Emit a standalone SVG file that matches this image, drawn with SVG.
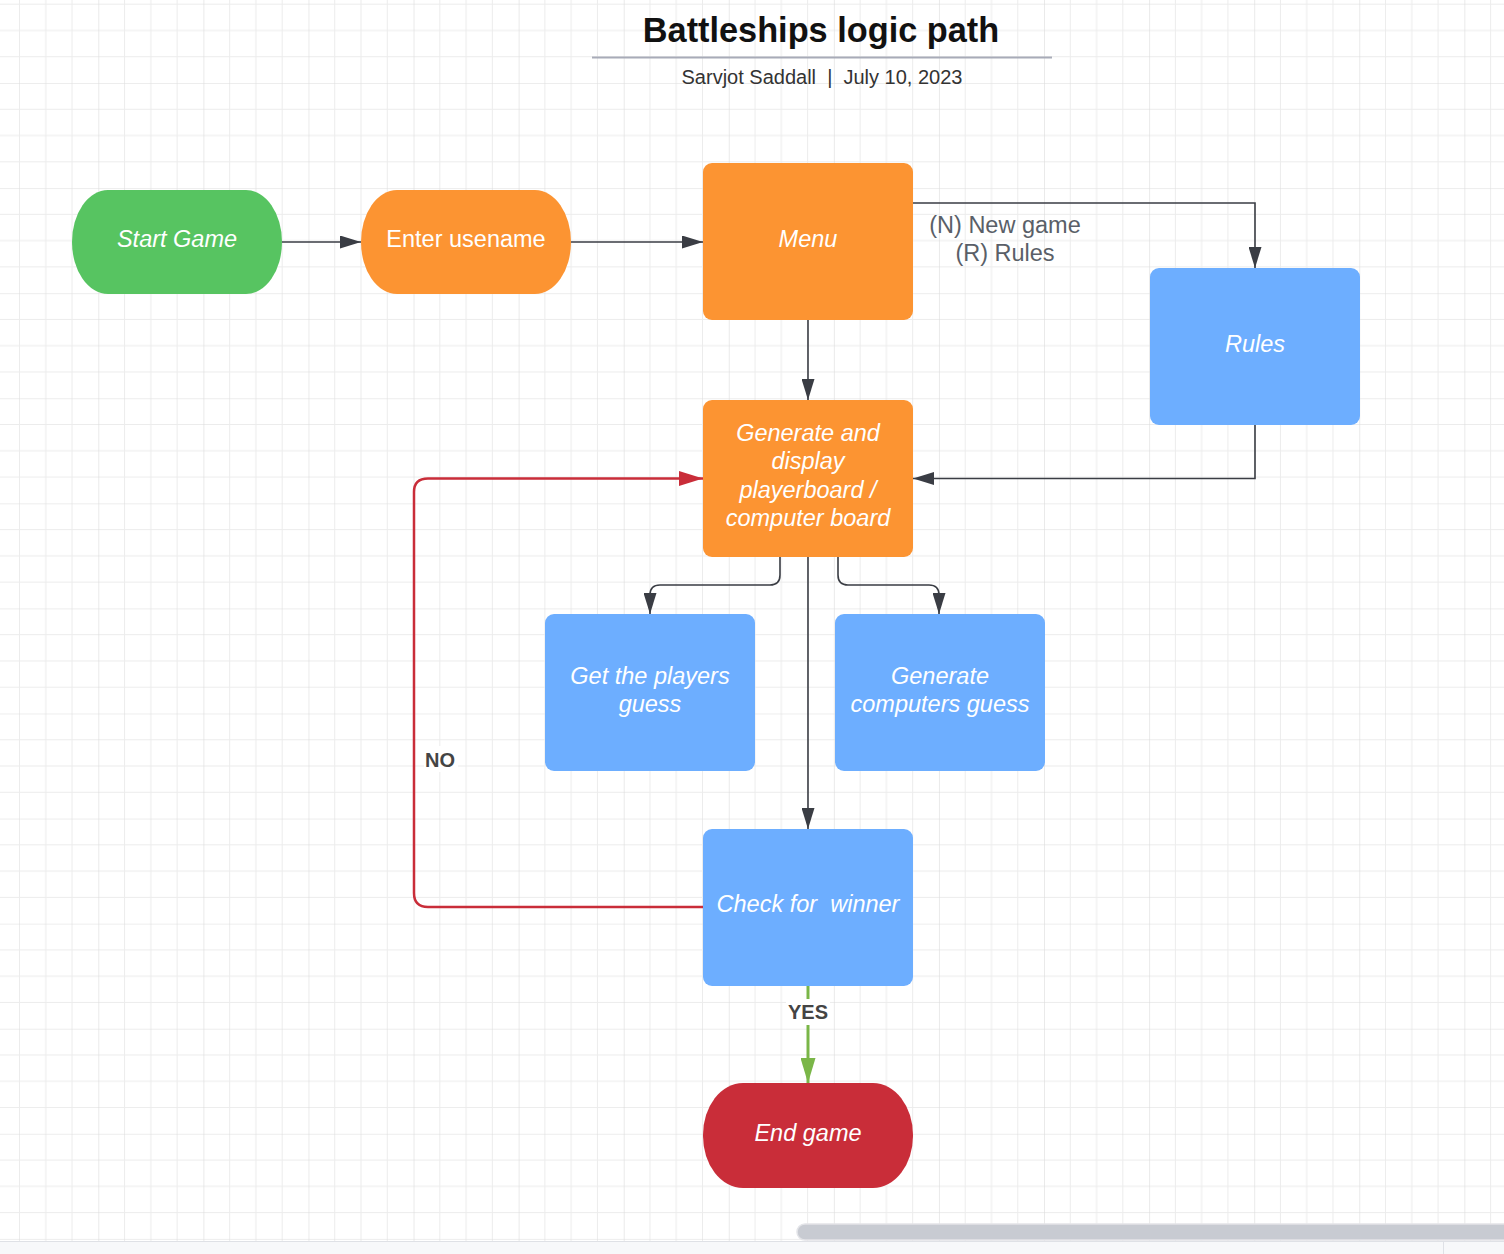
<svg xmlns="http://www.w3.org/2000/svg" width="1504" height="1254" viewBox="0 0 1504 1254">
<defs>
<style>
.node-text{font-family:"Liberation Sans",Arial,sans-serif;font-size:23.5px;fill:#ffffff;text-anchor:middle;font-style:italic}
.plain{font-style:normal}
.conn{fill:none;stroke:#3a3d44;stroke-width:1.6}
.red{fill:none;stroke:#c92d39;stroke-width:2.5}
.green{fill:none;stroke:#7ab648;stroke-width:3}
.lbl{font-family:"Liberation Sans",Arial,sans-serif;font-size:20px;font-weight:bold;fill:#444444;text-anchor:middle}
.menu-lbl{font-family:"Liberation Sans",Arial,sans-serif;font-size:23.5px;fill:#5a5f68;text-anchor:middle}
.orange{fill:#fc9432}
.blue{fill:#6daeff}
</style>
<pattern id="grid" patternUnits="userSpaceOnUse" x="-6.78" y="-22.08" width="105.08" height="105.08">
<path d="M26.27,0V105.08M52.54,0V105.08M78.81,0V105.08M0,26.27H105.08M0,52.54H105.08M0,78.81H105.08" stroke="#ececec" stroke-width="1" fill="none"/>
<path d="M0,0V105.08M0,0H105.08" stroke="#dcdcdc" stroke-width="1.2" fill="none"/>
</pattern>
<marker id="arrow" markerUnits="userSpaceOnUse" viewBox="0 0 21 13" markerWidth="21" markerHeight="13" refX="21" refY="6.5" orient="auto">
<path d="M0,0L21,6.5L0,13z" fill="#3a3d44"/>
</marker>
<marker id="arrow-red" markerUnits="userSpaceOnUse" viewBox="0 0 24 15" markerWidth="24" markerHeight="15" refX="24" refY="7.5" orient="auto">
<path d="M0,0L24,7.5L0,15z" fill="#c92d39"/>
</marker>
<marker id="arrow-green" markerUnits="userSpaceOnUse" viewBox="0 0 25 15" markerWidth="25" markerHeight="15" refX="25" refY="7.5" orient="auto">
<path d="M0,0L25,7.5L0,15z" fill="#7ab648"/>
</marker>
</defs>
<rect x="0" y="0" width="1504" height="1254" fill="#ffffff"/>
<rect x="0" y="0" width="1504" height="1241" fill="url(#grid)"/>

<g id="title">
<text x="821" y="42" font-family="Liberation Sans, Arial, sans-serif" font-size="34.3" font-weight="bold" fill="#111111" text-anchor="middle">Battleships logic path</text>
<line x1="592" y1="57.5" x2="1052" y2="57.5" stroke="#a8abb8" stroke-width="2"/>
<text x="822" y="84" font-family="Liberation Sans, Arial, sans-serif" font-size="20" fill="#333333" text-anchor="middle" xml:space="preserve">Sarvjot Saddall  |  July 10, 2023</text>
</g>

<g id="connectors">
<path class="conn" d="M282,242H361" marker-end="url(#arrow)"/>
<path class="conn" d="M571,242H703" marker-end="url(#arrow)"/>
<path class="conn" d="M913,203H1255V268" marker-end="url(#arrow)"/>
<path class="conn" d="M808,320V400" marker-end="url(#arrow)"/>
<path class="conn" d="M1255,425V478.5H913" marker-end="url(#arrow)"/>
<path class="conn" d="M780,557V575Q780,585 770,585H660Q650,585 650,595V614" marker-end="url(#arrow)"/>
<path class="conn" d="M838,557V575Q838,585 848,585H929Q939,585 939,595V614" marker-end="url(#arrow)"/>
<path class="conn" d="M808,557V829" marker-end="url(#arrow)"/>
<path class="red" d="M703,907H428Q414,907 414,893V492Q414,478.5 428,478.5H703" marker-end="url(#arrow-red)"/>
<path class="green" d="M808,986V1083" marker-end="url(#arrow-green)"/>
<text class="menu-lbl" x="1005" y="233">(N) New game</text>
<text class="menu-lbl" x="1005" y="261">(R) Rules</text>
<rect x="424" y="746" width="34" height="26" fill="#ffffff"/>
<text class="lbl" x="440" y="767">NO</text>
<rect x="786" y="999" width="44" height="26" fill="#ffffff"/>
<text class="lbl" x="808" y="1019">YES</text>
</g>

<g id="start-game">
<rect x="72" y="190" width="210" height="104" rx="36" ry="52" fill="#57c461"/>
<text class="node-text" x="177" y="247">Start Game</text>
</g>
<g id="enter-username">
<rect class="orange" x="361" y="190" width="210" height="104" rx="36" ry="52"/>
<text class="node-text plain" x="466" y="247">Enter usename</text>
</g>
<g id="menu">
<rect class="orange" x="703" y="163" width="210" height="157" rx="9"/>
<text class="node-text" x="808" y="247">Menu</text>
</g>
<g id="rules">
<rect class="blue" x="1150" y="268" width="210" height="157" rx="9"/>
<text class="node-text" x="1255" y="352">Rules</text>
</g>
<g id="generate-boards">
<rect class="orange" x="703" y="400" width="210" height="157" rx="9"/>
<text class="node-text" x="808" y="441">Generate and</text>
<text class="node-text" x="808" y="469">display</text>
<text class="node-text" x="808" y="498">playerboard /</text>
<text class="node-text" x="808" y="526">computer board</text>
</g>
<g id="players-guess">
<rect class="blue" x="545" y="614" width="210" height="157" rx="9"/>
<text class="node-text" x="650" y="684">Get the players</text>
<text class="node-text" x="650" y="712">guess</text>
</g>
<g id="computers-guess">
<rect class="blue" x="835" y="614" width="210" height="157" rx="9"/>
<text class="node-text" x="940" y="684">Generate</text>
<text class="node-text" x="940" y="712">computers guess</text>
</g>
<g id="check-winner">
<rect class="blue" x="703" y="829" width="210" height="157" rx="9"/>
<text class="node-text" x="808" y="912" xml:space="preserve">Check for  winner</text>
</g>
<g id="end-game">
<rect x="703" y="1083" width="210" height="105" rx="40" ry="52" fill="#c92d39"/>
<text class="node-text" x="808" y="1141">End game</text>
</g>

<g id="scrollbar">
<rect x="0" y="1241" width="1504" height="13" fill="#f7f8fa"/>
<line x1="0" y1="1241.5" x2="1504" y2="1241.5" stroke="#dfe1e6" stroke-width="1"/>
<line x1="1443.5" y1="1242" x2="1443.5" y2="1254" stroke="#dfe1e6" stroke-width="1"/>
<rect x="797" y="1224" width="730" height="16" rx="8" fill="#c8cbd2" stroke="#e3e4e8" stroke-width="1.5"/>
</g>
</svg>
